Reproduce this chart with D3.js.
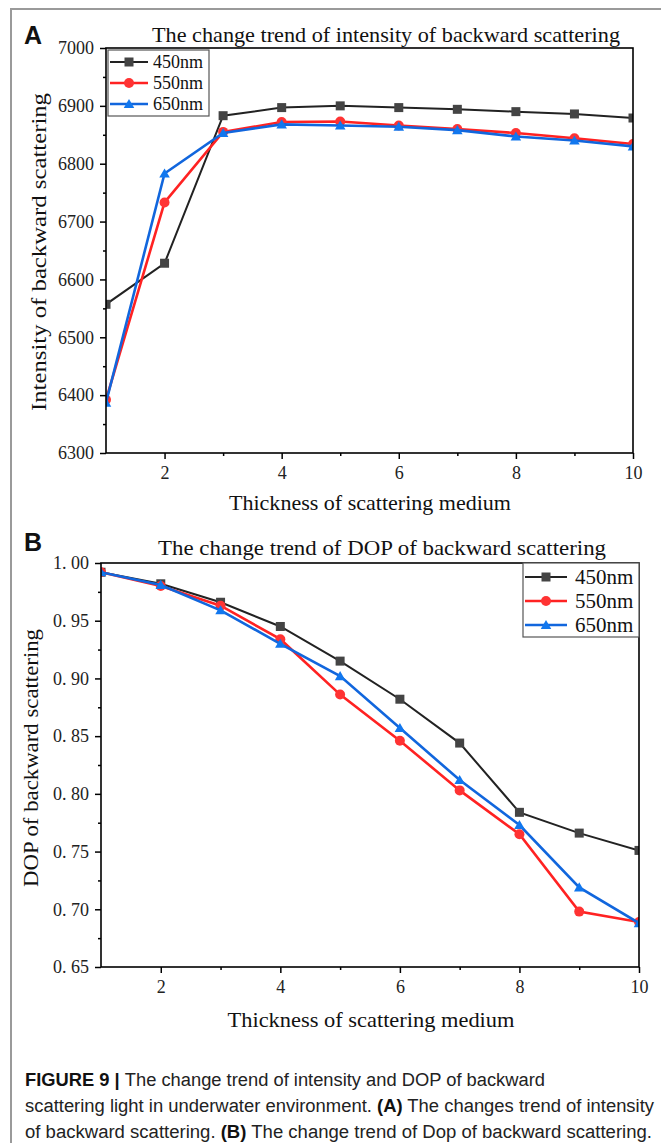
<!DOCTYPE html>
<html>
<head>
<meta charset="utf-8">
<script src="https://cdn.jsdelivr.net/npm/d3@7"></script>
<style>
  html, body { margin: 0; padding: 0; background: #fff; }
  svg { display: block; }
</style>
</head>
<body>
<svg id="fig" width="661" height="1143"></svg>
<script>
// ---------------- data ----------------
const thickness = [1, 2, 3, 4, 5, 6, 7, 8, 9, 10];
const wavelengths = ["450nm", "550nm", "650nm"];
const intensity450 = [6557, 6628, 6883, 6897, 6900, 6897, 6894, 6890, 6886, 6879];
const intensity550 = [6392, 6733, 6855, 6872, 6873, 6866, 6860, 6853, 6844, 6834];
const intensity650 = [6387, 6783, 6853, 6868, 6866, 6864, 6858, 6847, 6840, 6830];
const dop450 = [0.992, 0.982, 0.966, 0.945, 0.915, 0.882, 0.844, 0.784, 0.766, 0.751];
const dop550 = [0.992, 0.980, 0.963, 0.934, 0.886, 0.846, 0.803, 0.765, 0.698, 0.689];
const dop650 = [0.992, 0.981, 0.959, 0.930, 0.902, 0.857, 0.812, 0.773, 0.719, 0.688];
const xTickValues = [2, 4, 6, 8, 10];
const xMinorValues = [3, 5, 7, 9];
const intensityTicks = [6300, 6400, 6500, 6600, 6700, 6800, 6900, 7000];
const intensityMinor = [6350, 6450, 6550, 6650, 6750, 6850, 6950];
const dopTicks = [0.65, 0.70, 0.75, 0.80, 0.85, 0.90, 0.95, 1.00];
const dopTickLabels = ["0. 65", "0. 70", "0. 75", "0. 80", "0. 85", "0. 90", "0. 95", "1. 00"];
const dopMinor = [0.675, 0.725, 0.775, 0.825, 0.875, 0.925, 0.975];
const titleA = "The change trend of intensity of backward scattering";
const titleB = "The change trend of DOP of backward scattering";
const xTitle = "Thickness of scattering medium";
const yTitleA = "Intensity of backward scattering";
const yTitleB = "DOP of backward scattering";

const colors = ["#222222", "#ff2222", "#1166dd"];
const markerFill = ["#444444", "#ff3333", "#1177ee"];
const markerKinds = ["square", "circle", "triangle"];

const svg = d3.select("#fig");
svg.append("rect").attr("width", 661).attr("height", 1143).attr("fill", "#fff");

// outer frame (gray)
svg.append("path").attr("d", "M11,1143 L11,9 L661,9")
  .attr("fill", "none").attr("stroke", "#9a9a9a").attr("stroke-width", 2);

const serif = "'Liberation Serif', 'Times New Roman', serif";

function drawMarker(g, kind, x, y, fill, size) {
  if (kind === "square") {
    g.append("rect").attr("x", x - size / 2).attr("y", y - size / 2)
      .attr("width", size).attr("height", size).attr("fill", fill);
  } else if (kind === "circle") {
    g.append("circle").attr("cx", x).attr("cy", y).attr("r", size / 2 + 0.5).attr("fill", fill);
  } else {
    const s = size * 1.15;
    g.append("path").attr("d", d3.symbol(d3.symbolTriangle, s * s * 0.45)())
      .attr("transform", `translate(${x},${y + 1})`).attr("fill", fill);
  }
}

function panel(cfg) {
  const {id, left, right, top, bottom, yDomain, yTicks, yMinor, yFormat, series,
         title, titleX, titleY, titleLen, yTitle, yTitleX, yTitleY, yTitleLen,
         xTitleY, xTitleX, xTitleLen, letter, letterY, legend, msize} = cfg;
  const x = d3.scaleLinear().domain([1, 10]).range([left, right]);
  const y = d3.scaleLinear().domain(yDomain).range([bottom, top]);
  const g = svg.append("g");

  svg.append("clipPath").attr("id", "clip" + id)
    .append("rect").attr("x", left).attr("y", top).attr("width", right - left).attr("height", bottom - top);

  const lines = g.append("g").attr("clip-path", `url(#clip${id})`);
  series.forEach((vals, i) => {
    const line = d3.line().x((d, j) => x(thickness[j])).y(d => y(d));
    lines.append("path").datum(vals).attr("d", line)
      .attr("fill", "none").attr("stroke", colors[i]).attr("stroke-width", i === 0 ? 2 : 2.6);
    vals.forEach((v, j) => drawMarker(lines, markerKinds[i], x(thickness[j]), y(v), markerFill[i], msize));
  });

  const yAxis = d3.axisLeft(y).tickValues(yTicks).tickSize(6).tickPadding(6).tickFormat(yFormat);
  g.append("g").attr("transform", `translate(${left},0)`).call(yAxis);
  g.append("g").attr("transform", `translate(${left},0)`)
    .call(d3.axisLeft(y).tickValues(yMinor).tickSize(3).tickFormat(""));
  const xAxis = d3.axisBottom(x).tickValues(xTickValues).tickSize(6).tickPadding(7).tickFormat(d3.format("d"));
  g.append("g").attr("transform", `translate(0,${bottom})`).call(xAxis);
  g.append("g").attr("transform", `translate(0,${bottom})`)
    .call(d3.axisBottom(x).tickValues(xMinorValues).tickSize(3).tickFormat(""));
  g.selectAll(".domain").remove();
  g.selectAll(".tick line").attr("stroke", "#000").attr("stroke-width", 1.5);
  g.selectAll(".tick text").style("font-family", serif).style("font-size", "18px").style("fill", "#222");

  g.append("rect").attr("x", left).attr("y", top).attr("width", right - left).attr("height", bottom - top)
    .attr("fill", "none").attr("stroke", "#000").attr("stroke-width", 1.6);

  g.append("text").attr("x", titleX).attr("y", titleY).attr("text-anchor", "middle")
    .attr("font-family", serif).attr("font-size", 21).attr("fill", "#111")
    .attr("textLength", titleLen).attr("lengthAdjust", "spacingAndGlyphs").text(title);
  g.append("text").attr("x", xTitleX).attr("y", xTitleY).attr("text-anchor", "middle")
    .attr("font-family", serif).attr("font-size", 21).attr("fill", "#111")
    .attr("textLength", xTitleLen).attr("lengthAdjust", "spacingAndGlyphs").text(xTitle);
  g.append("text").attr("transform", `translate(${yTitleX},${yTitleY}) rotate(-90)`)
    .attr("text-anchor", "middle")
    .attr("font-family", serif).attr("font-size", 20).attr("fill", "#111")
    .attr("textLength", yTitleLen).attr("lengthAdjust", "spacingAndGlyphs").text(yTitle);
  g.append("text").attr("x", 24).attr("y", letterY)
    .attr("font-family", "'Liberation Sans', Arial, sans-serif").attr("font-weight", "bold")
    .attr("font-size", 25).attr("fill", "#111").text(letter);

  const L = legend;
  const lg = g.append("g");
  lg.append("rect").attr("x", L.x).attr("y", L.y).attr("width", L.w).attr("height", L.h)
    .attr("fill", "#fff").attr("stroke", "#555").attr("stroke-width", 1.2);
  wavelengths.forEach((w, i) => {
    const yy = L.rowY[i];
    lg.append("line").attr("x1", L.x + 2).attr("x2", L.x + L.lineLen).attr("y1", yy).attr("y2", yy)
      .attr("stroke", colors[i]).attr("stroke-width", i === 0 ? 2 : 2.6);
    drawMarker(lg, markerKinds[i], L.x + 2 + (L.lineLen - 2) / 2, yy, markerFill[i], L.msize);
    lg.append("text").attr("x", L.textX).attr("y", yy + L.fs * 0.33)
      .attr("font-family", serif).attr("font-size", L.fs).attr("fill", "#111").text(w);
  });
}

panel({
  id: "A", left: 106, right: 633, top: 48, bottom: 453,
  yDomain: [6300, 7000], yTicks: intensityTicks, yMinor: intensityMinor, yFormat: d3.format("d"),
  series: [intensity450, intensity550, intensity650],
  title: titleA, titleX: 386, titleY: 42, titleLen: 468,
  yTitle: yTitleA, yTitleX: 46, yTitleY: 252, yTitleLen: 318,
  xTitleX: 370, xTitleY: 510, xTitleLen: 282,
  letter: "A", letterY: 44, msize: 9,
  legend: {x: 108, y: 50, w: 101, h: 66, rowY: [62, 83, 104], lineLen: 40, textX: 153, fs: 18, msize: 9}
});

panel({
  id: "B", left: 101, right: 639, top: 563, bottom: 967,
  yDomain: [0.65, 1.00], yTicks: dopTicks, yMinor: dopMinor,
  yFormat: d => dopTickLabels[dopTicks.findIndex(t => Math.abs(t - d) < 1e-9)],
  series: [dop450, dop550, dop650],
  title: titleB, titleX: 382, titleY: 555, titleLen: 448,
  yTitle: yTitleB, yTitleX: 38, yTitleY: 758, yTitleLen: 258,
  xTitleX: 371, xTitleY: 1027, xTitleLen: 287,
  letter: "B", letterY: 551, msize: 9,
  legend: {x: 523, y: 563, w: 116, h: 74, rowY: [577, 601, 625], lineLen: 44, textX: 575, fs: 21, msize: 9}
});

// caption
const cap = svg.append("g").attr("font-family", "'Liberation Sans', Arial, sans-serif")
  .attr("font-size", 18).attr("fill", "#222");
const l1 = cap.append("text").attr("x", 25).attr("y", 1086).attr("textLength", 520).attr("lengthAdjust", "spacingAndGlyphs");
l1.append("tspan").attr("font-weight", "bold").attr("fill", "#111").text("FIGURE 9 | ");
l1.append("tspan").text("The change trend of intensity and DOP of backward");
const l2 = cap.append("text").attr("x", 25).attr("y", 1112).attr("textLength", 629).attr("lengthAdjust", "spacingAndGlyphs");
l2.append("tspan").text("scattering light in underwater environment. ");
l2.append("tspan").attr("font-weight", "bold").attr("fill", "#111").text("(A)");
l2.append("tspan").text(" The changes trend of intensity");
const l3 = cap.append("text").attr("x", 25).attr("y", 1138).attr("textLength", 627).attr("lengthAdjust", "spacingAndGlyphs");
l3.append("tspan").text("of backward scattering. ");
l3.append("tspan").attr("font-weight", "bold").attr("fill", "#111").text("(B)");
l3.append("tspan").text(" The change trend of Dop of backward scattering.");
</script>
</body>
</html>
